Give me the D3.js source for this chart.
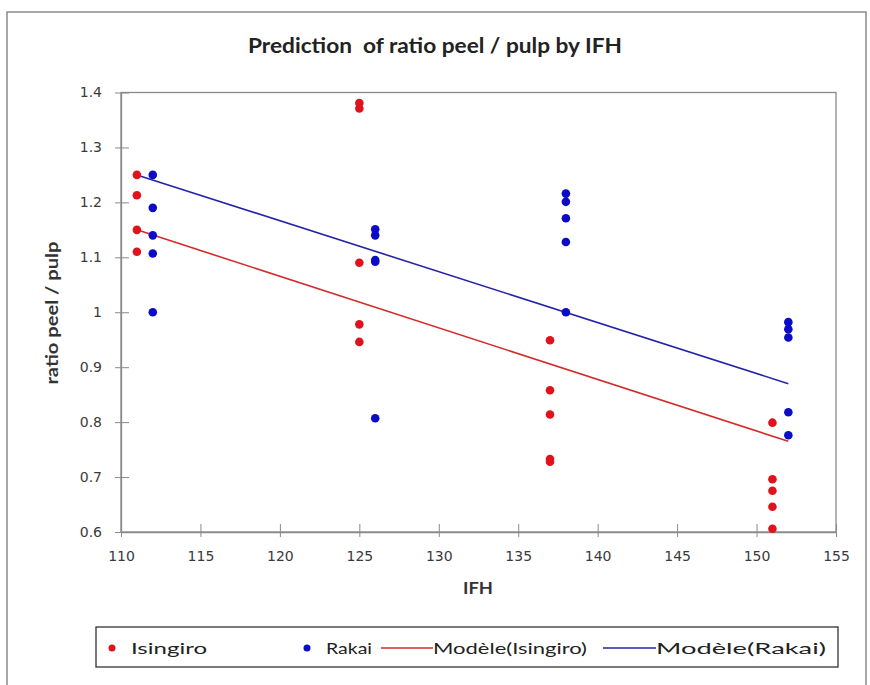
<!DOCTYPE html>
<html>
<head>
<meta charset="utf-8">
<script src="https://cdn.jsdelivr.net/npm/d3@7"></script>
<style>
  html, body { margin: 0; padding: 0; background: #fff; }
  svg { display: block; }
</style>
</head>
<body>
<svg id="chart" width="870" height="685"></svg>
<script>
// Observations per site: IFH and ratio peel / pulp
const isingiroX = [111, 111, 111, 111, 125, 125, 125, 125, 125, 137, 137, 137, 137, 137, 151, 151, 151, 151, 151];
const isingiroY = [1.25, 1.213, 1.15, 1.11, 1.381, 1.371, 1.09, 0.978, 0.946, 0.949, 0.858, 0.814, 0.733, 0.728, 0.799, 0.696, 0.675, 0.646, 0.606];
const rakaiX = [112, 112, 112, 112, 112, 126, 126, 126, 126, 126, 138, 138, 138, 138, 138, 152, 152, 152, 152, 152];
const rakaiY = [1.25, 1.19, 1.14, 1.107, 1.0, 1.151, 1.14, 1.095, 1.092, 0.807, 1.216, 1.201, 1.171, 1.128, 1.0, 0.982, 0.969, 0.954, 0.818, 0.776];

// Fitted linear models (endpoints)
const modelX = [111, 152];
const modelIsingiro = [1.15, 0.765];
const modelRakai = [1.25, 0.87];

// Axis ticks
const xTicks = [110, 115, 120, 125, 130, 135, 140, 145, 150, 155];
const yTicks = [0.6, 0.7, 0.8, 0.9, 1.0, 1.1, 1.2, 1.3, 1.4];

const legendLabels = ["Isingiro", "Rakai", "Modèle(Isingiro)", "Modèle(Rakai)"];

const RED = "#e0121c";
const BLUE = "#0c0cc8";
const RED_LINE = "#d42a2a";
const BLUE_LINE = "#2424a8";
const GRAY = "#8a8a8a";
const FONT = "Lato, 'Open Sans', sans-serif";
const TICK_FONT = "'DejaVu Sans', Verdana, sans-serif";

const svg = d3.select("#chart");

// Outer chart frame
svg.append("rect")
  .attr("x", 7).attr("y", 12).attr("width", 859).attr("height", 690)
  .attr("fill", "#fff").attr("stroke", GRAY).attr("stroke-width", 1.5);

const plot = { left: 121, right: 836, top: 92.5, bottom: 532 };

const x = d3.scaleLinear().domain([110, 155]).range([plot.left, plot.right]);
const y = d3.scaleLinear().domain([0.6, 1.4]).range([plot.bottom, plot.top]);

// Plot frame
svg.append("rect")
  .attr("x", plot.left).attr("y", plot.top)
  .attr("width", plot.right - plot.left).attr("height", plot.bottom - plot.top)
  .attr("fill", "none").attr("stroke", GRAY).attr("stroke-width", 1.3);

// X axis with crossing ticks
const xAxis = svg.append("g")
  .attr("transform", `translate(0,${plot.bottom})`)
  .call(d3.axisBottom(x).tickValues(xTicks).tickFormat(d3.format("d")).tickSize(5).tickSizeOuter(0));
xAxis.select(".domain").attr("stroke", GRAY).attr("stroke-width", 1.3);
xAxis.selectAll(".tick line").attr("stroke", GRAY).attr("y1", -8).attr("y2", 5);
xAxis.selectAll(".tick text")
  .attr("y", 19).attr("font-family", TICK_FONT).attr("font-size", 14).attr("fill", "#3a3a3a");

// Y axis with crossing ticks
const yAxis = svg.append("g")
  .attr("transform", `translate(${plot.left},0)`)
  .call(d3.axisLeft(y).tickValues(yTicks).tickFormat(d => d3.format("~g")(d)).tickSize(6).tickSizeOuter(0));
yAxis.select(".domain").attr("stroke", GRAY).attr("stroke-width", 1.3);
yAxis.selectAll(".tick line").attr("stroke", GRAY).attr("x1", -6).attr("x2", 8);
yAxis.selectAll(".tick text")
  .attr("x", -19).attr("font-family", TICK_FONT).attr("font-size", 14).attr("fill", "#3a3a3a");

// Regression lines
const line = d3.line().x(d => x(d[0])).y(d => y(d[1]));
svg.append("path")
  .datum(d3.zip(modelX, modelIsingiro))
  .attr("d", line).attr("fill", "none").attr("stroke", RED_LINE).attr("stroke-width", 1.6);
svg.append("path")
  .datum(d3.zip(modelX, modelRakai))
  .attr("d", line).attr("fill", "none").attr("stroke", BLUE_LINE).attr("stroke-width", 1.6);

// Scatter points
svg.append("g").selectAll("circle")
  .data(d3.zip(isingiroX, isingiroY))
  .join("circle")
  .attr("cx", d => x(d[0])).attr("cy", d => y(d[1])).attr("r", 4.3)
  .attr("fill", RED);
svg.append("g").selectAll("circle")
  .data(d3.zip(rakaiX, rakaiY))
  .join("circle")
  .attr("cx", d => x(d[0])).attr("cy", d => y(d[1])).attr("r", 4.3)
  .attr("fill", BLUE);

// Title
svg.append("text")
  .attr("x", 435).attr("y", 53).attr("text-anchor", "middle")
  .attr("font-family", FONT).attr("font-size", 20).attr("font-weight", "bold").attr("fill", "#222")
  .attr("textLength", 374).attr("lengthAdjust", "spacingAndGlyphs")
  .attr("xml:space", "preserve")
  .text("Prediction  of ratio peel / pulp by IFH");

// Axis titles
svg.append("text")
  .attr("x", 478).attr("y", 594).attr("text-anchor", "middle")
  .attr("font-family", FONT).attr("font-size", 17).attr("font-weight", "bold").attr("fill", "#333")
  .attr("textLength", 30).attr("lengthAdjust", "spacingAndGlyphs")
  .text("IFH");
svg.append("text")
  .attr("transform", `translate(58,${313}) rotate(-90)`)
  .attr("text-anchor", "middle")
  .attr("font-family", FONT).attr("font-size", 17).attr("font-weight", "bold").attr("fill", "#333")
  .attr("textLength", 143).attr("lengthAdjust", "spacingAndGlyphs")
  .text("ratio peel / pulp");

// Legend
const lg = svg.append("g");
lg.append("rect")
  .attr("x", 96).attr("y", 627).attr("width", 742).attr("height", 40)
  .attr("fill", "#fff").attr("stroke", "#333").attr("stroke-width", 1.3);
const ly = 648;
lg.append("circle").attr("cx", 112).attr("cy", ly).attr("r", 3.5).attr("fill", RED);
lg.append("circle").attr("cx", 307).attr("cy", ly).attr("r", 3.5).attr("fill", BLUE);
lg.append("line").attr("x1", 381).attr("x2", 433).attr("y1", ly).attr("y2", ly)
  .attr("stroke", RED_LINE).attr("stroke-width", 1.6);
lg.append("line").attr("x1", 603).attr("x2", 656).attr("y1", ly).attr("y2", ly)
  .attr("stroke", BLUE_LINE).attr("stroke-width", 1.6);
const textX = [131, 326, 433, 656];
const textW = [76, 46, 154, 170];
lg.selectAll("text.lab")
  .data(legendLabels)
  .join("text")
  .attr("class", "lab")
  .attr("x", (d, i) => textX[i]).attr("y", ly + 5.5)
  .attr("font-family", FONT).attr("font-size", 16).attr("fill", "#222")
  .attr("textLength", (d, i) => textW[i]).attr("lengthAdjust", "spacingAndGlyphs")
  .text(d => d);
</script>
</body>
</html>
